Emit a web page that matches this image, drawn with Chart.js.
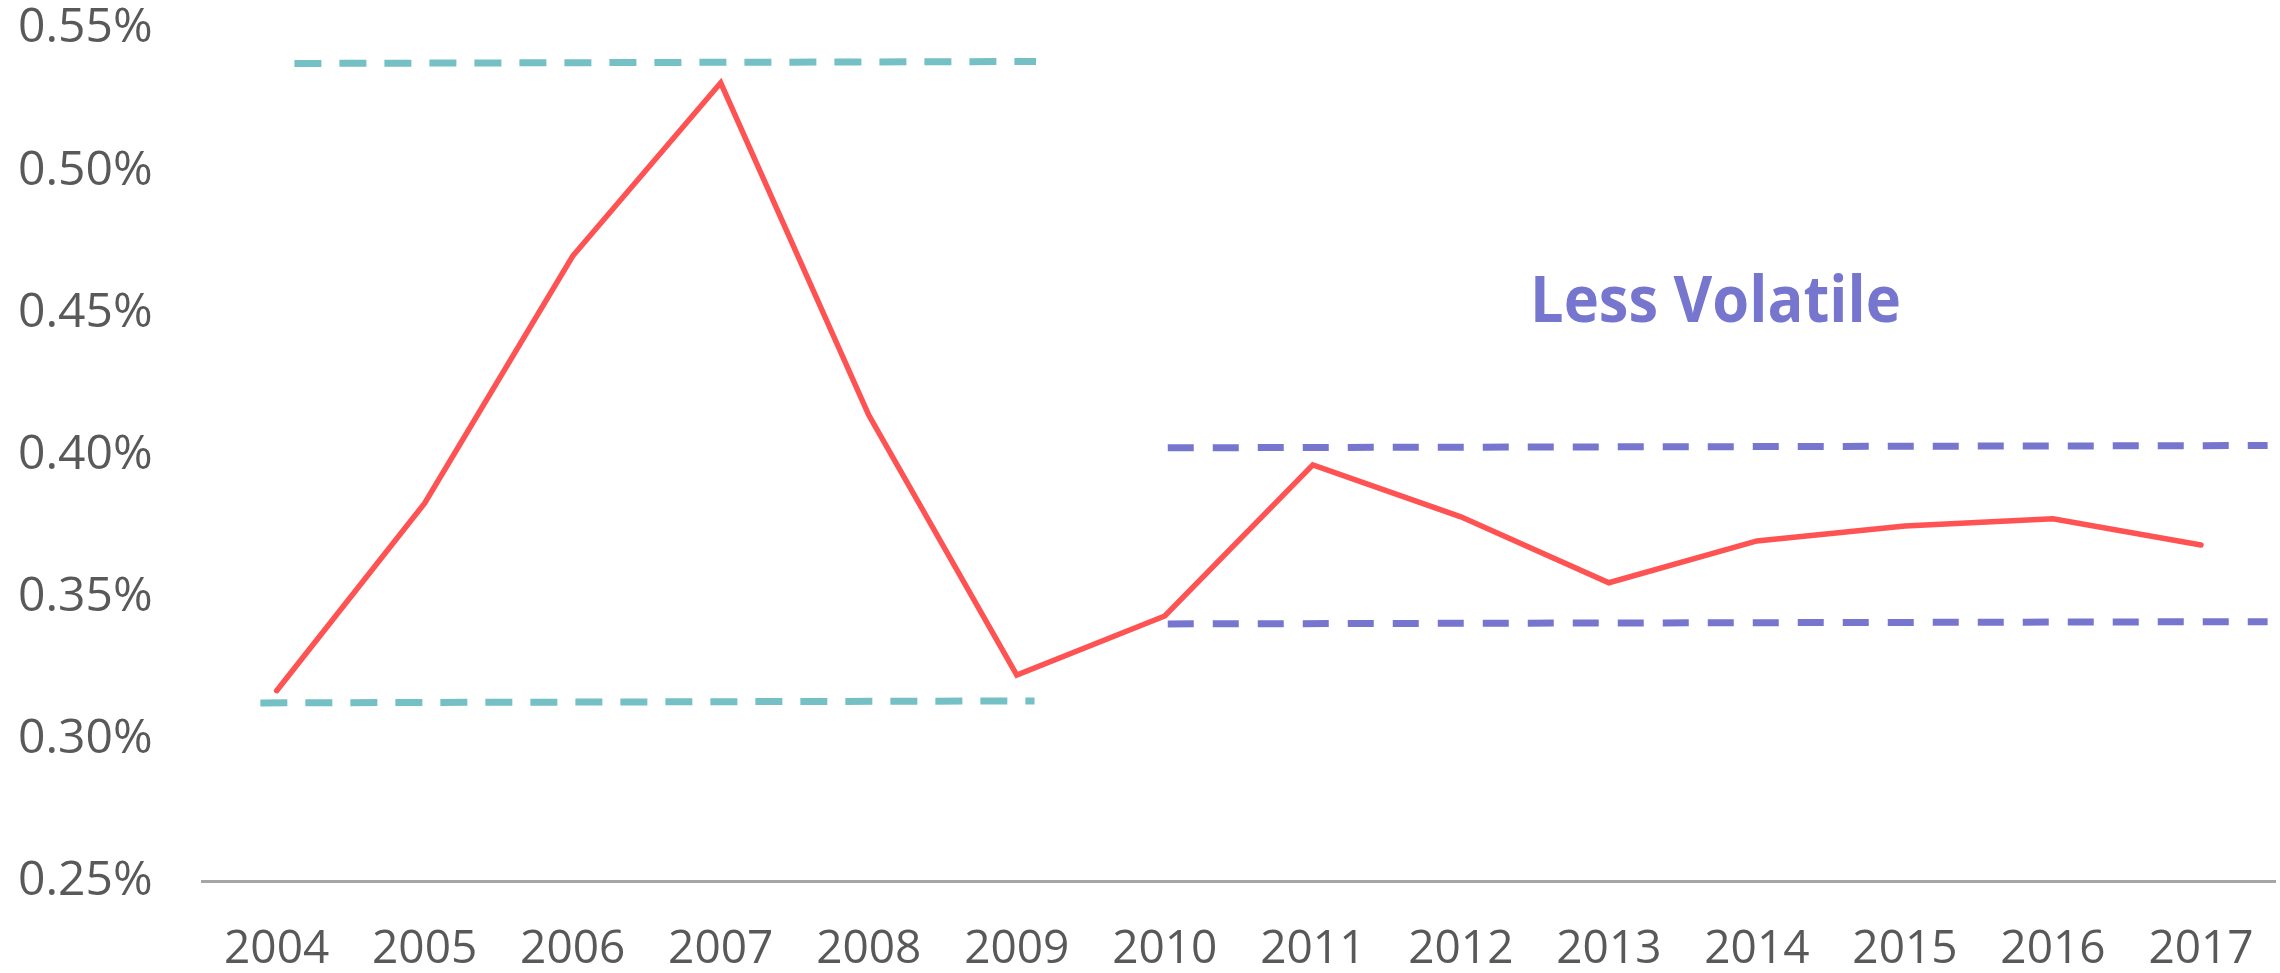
<!DOCTYPE html>
<html>
<head>
<meta charset="utf-8">
<script src="https://cdn.jsdelivr.net/npm/chart.js@4/dist/chart.umd.min.js"></script>
<style>
  html, body { margin: 0; padding: 0; background: #ffffff; }
  #wrap { width: 2280px; height: 973px; position: relative; }
</style>
</head>
<body>
<div id="wrap"><canvas id="c" width="2280" height="973"></canvas></div>
<script>
// ---- data ----
const years = [2004, 2005, 2006, 2007, 2008, 2009, 2010, 2011, 2012, 2013, 2014, 2015, 2016, 2017];
const rates = [0.317, 0.383, 0.470, 0.531, 0.414, 0.3225, 0.3433, 0.3965, 0.3782, 0.355, 0.3697, 0.375, 0.3775, 0.3683];
const yTickValues = [0.25, 0.30, 0.35, 0.40, 0.45, 0.50, 0.55];

// band guide lines (start/end year positions and levels)
const tealTopX = [2004.12, 2009.13];
const tealTopY = [0.5378, 0.5385];
const tealBottomX = [2003.89, 2009.12];
const tealBottomY = [0.3127, 0.3134];
const purpleTopX = [2010.02, 2017.45];
const purpleTopY = [0.4025, 0.4033];
const purpleBottomX = [2010.02, 2017.45];
const purpleBottomY = [0.3405, 0.3413];
const annotationText = 'Less Volatile';
const annotationPos = [2013.72, 0.4532];

const pts = (xs, ys) => xs.map((x, i) => ({ x: x, y: ys[i] }));

const TEAL = 'rgb(116,192,196)';
const PURPLE = 'rgb(118,118,206)';
const RED = 'rgb(255,82,82)';
const TEXT = '#595959';

const annotationPlugin = {
  id: 'lessVolatile',
  afterDatasetsDraw(chart) {
    const ctx = chart.ctx;
    const x = chart.scales.x.getPixelForValue(annotationPos[0]);
    const y = chart.scales.y.getPixelForValue(annotationPos[1]);
    ctx.save();
    ctx.font = 'bold 65px "Open Sans"';
    ctx.fillStyle = PURPLE;
    ctx.textBaseline = 'middle';
    ctx.textAlign = 'center';
    const w = ctx.measureText(annotationText).width;
    const sx = 371 / w;
    ctx.translate(x, y);
    ctx.scale(sx, 1);
    ctx.fillText(annotationText, 0, 0);
    ctx.restore();
  }
};

const dashed = (data, color, dash) => ({
  data: data,
  borderColor: color,
  borderWidth: 7,
  borderDash: dash,
  pointRadius: 0,
  fill: false,
  tension: 0
});

new Chart(document.getElementById('c'), {
  type: 'line',
  data: {
    datasets: [
      {
        data: pts(years, rates),
        borderColor: RED,
        borderWidth: 5.5,
        pointRadius: 0,
        fill: false,
        tension: 0,
        borderCapStyle: 'round'
      },
      dashed(pts(tealTopX, tealTopY), TEAL, [27, 18]),
      dashed(pts(tealBottomX, tealBottomY), TEAL, [27, 18]),
      dashed(pts(purpleTopX, purpleTopY), PURPLE, [26, 19]),
      dashed(pts(purpleBottomX, purpleBottomY), PURPLE, [26, 19])
    ]
  },
  options: {
    responsive: false,
    animation: false,
    devicePixelRatio: 1,
    layout: { padding: { left: 18, right: 5, top: 0, bottom: 0 } },
    plugins: { legend: { display: false }, tooltip: { enabled: false } },
    scales: {
      x: {
        type: 'linear',
        min: 2003.5,
        max: 2017.5,
        afterBuildTicks: (scale) => { scale.ticks = years.map(v => ({ value: v })); },
        grid: { display: true, drawOnChartArea: false, drawTicks: true, tickLength: 46, tickColor: 'rgba(0,0,0,0)' },
        border: { display: true, color: '#A6A6A6', width: 3 },
        ticks: {
          color: TEXT,
          font: { family: '"Open Sans"', size: 46, lineHeight: 1 },
          padding: 0,
          maxRotation: 0,
          autoSkip: false,
          callback: (v) => String(v)
        }
      },
      y: {
        type: 'linear',
        min: 0.25,
        max: 0.55,
        afterBuildTicks: (scale) => { scale.ticks = yTickValues.map(v => ({ value: v })); },
        grid: { display: true, drawOnChartArea: false, drawTicks: true, tickLength: 50, tickColor: 'rgba(0,0,0,0)' },
        border: { display: false },
        ticks: {
          color: TEXT,
          font: { family: '"Open Sans"', size: 48 },
          padding: 0,
          callback: (v) => v.toFixed(2) + '%'
        }
      }
    }
  },
  plugins: [annotationPlugin]
});
</script>
</body>
</html>
